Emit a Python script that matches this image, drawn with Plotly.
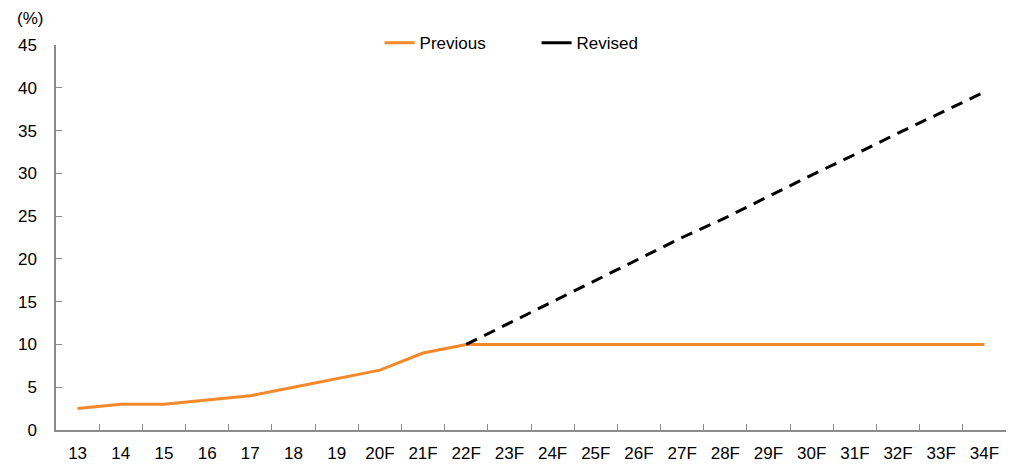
import plotly.graph_objects as go

categories = ["13", "14", "15", "16", "17", "18", "19", "20F", "21F", "22F", "23F", "24F",
              "25F", "26F", "27F", "28F", "29F", "30F", "31F", "32F", "33F", "34F"]
previous = [2.5, 3.0, 3.0, 3.5, 4.0, 5.0, 6.0, 7.0, 9.0, 10.0, 10.0, 10.0,
            10.0, 10.0, 10.0, 10.0, 10.0, 10.0, 10.0, 10.0, 10.0, 10.0]
revised_categories = categories[9:]
revised = [10.0, 12.5, 15.0, 17.5, 20.0, 22.5, 24.8, 27.3, 29.8, 32.2, 34.7, 37.1, 39.5]
y_ticks = [0, 5, 10, 15, 20, 25, 30, 35, 40, 45]

orange = "#F5882A"
axis_color = "#8C8C8C"
font = "Liberation Sans, Arial, sans-serif"

fig = go.Figure()
fig.add_trace(go.Scatter(x=categories, y=previous, mode="lines", name="Previous",
                         line=dict(color=orange, width=3)))
fig.add_trace(go.Scatter(x=revised_categories, y=revised, mode="lines", name="Revised",
                         showlegend=False,
                         line=dict(color="black", width=3, dash="12px,8px")))
# legend entry for Revised drawn as a solid line
fig.add_trace(go.Scatter(x=[None], y=[None], mode="lines", name="Revised",
                         line=dict(color="black", width=3)))

fig.update_layout(
    width=1025, height=461,
    margin=dict(l=48, r=27, t=37, b=39, autoexpand=False),
    paper_bgcolor="white", plot_bgcolor="white",
    font=dict(family=font, size=17, color="black"),
    showlegend=True,
    legend=dict(orientation="h", x=0.3406, xanchor="left", y=1.005, yanchor="middle",
                font=dict(size=17), entrywidth=112, bgcolor="rgba(0,0,0,0)",
                tracegroupgap=0),
    xaxis=dict(type="category", categoryorder="array", categoryarray=categories,
               range=[-0.5, len(categories) - 0.5], automargin=False,
               tickson="boundaries", ticks="inside", ticklen=6, tickcolor=axis_color,
               showline=True, linecolor=axis_color, linewidth=1.5,
               showgrid=False, zeroline=False, ticklabelstandoff=7,
               tickfont=dict(size=17)),
    yaxis=dict(range=[0, 45], tickvals=y_ticks, ticks="inside", ticklen=6, automargin=False,
               tickcolor=axis_color, showline=True, linecolor=axis_color, linewidth=1.5,
               showgrid=False, zeroline=False, ticklabelstandoff=14,
               tickfont=dict(size=17)),
    annotations=[dict(text="(%)", xref="paper", yref="paper", x=-0.043, y=1.07,
                      xanchor="left", yanchor="middle", showarrow=False,
                      font=dict(size=17))],
)

fig.write_html("out.html")
